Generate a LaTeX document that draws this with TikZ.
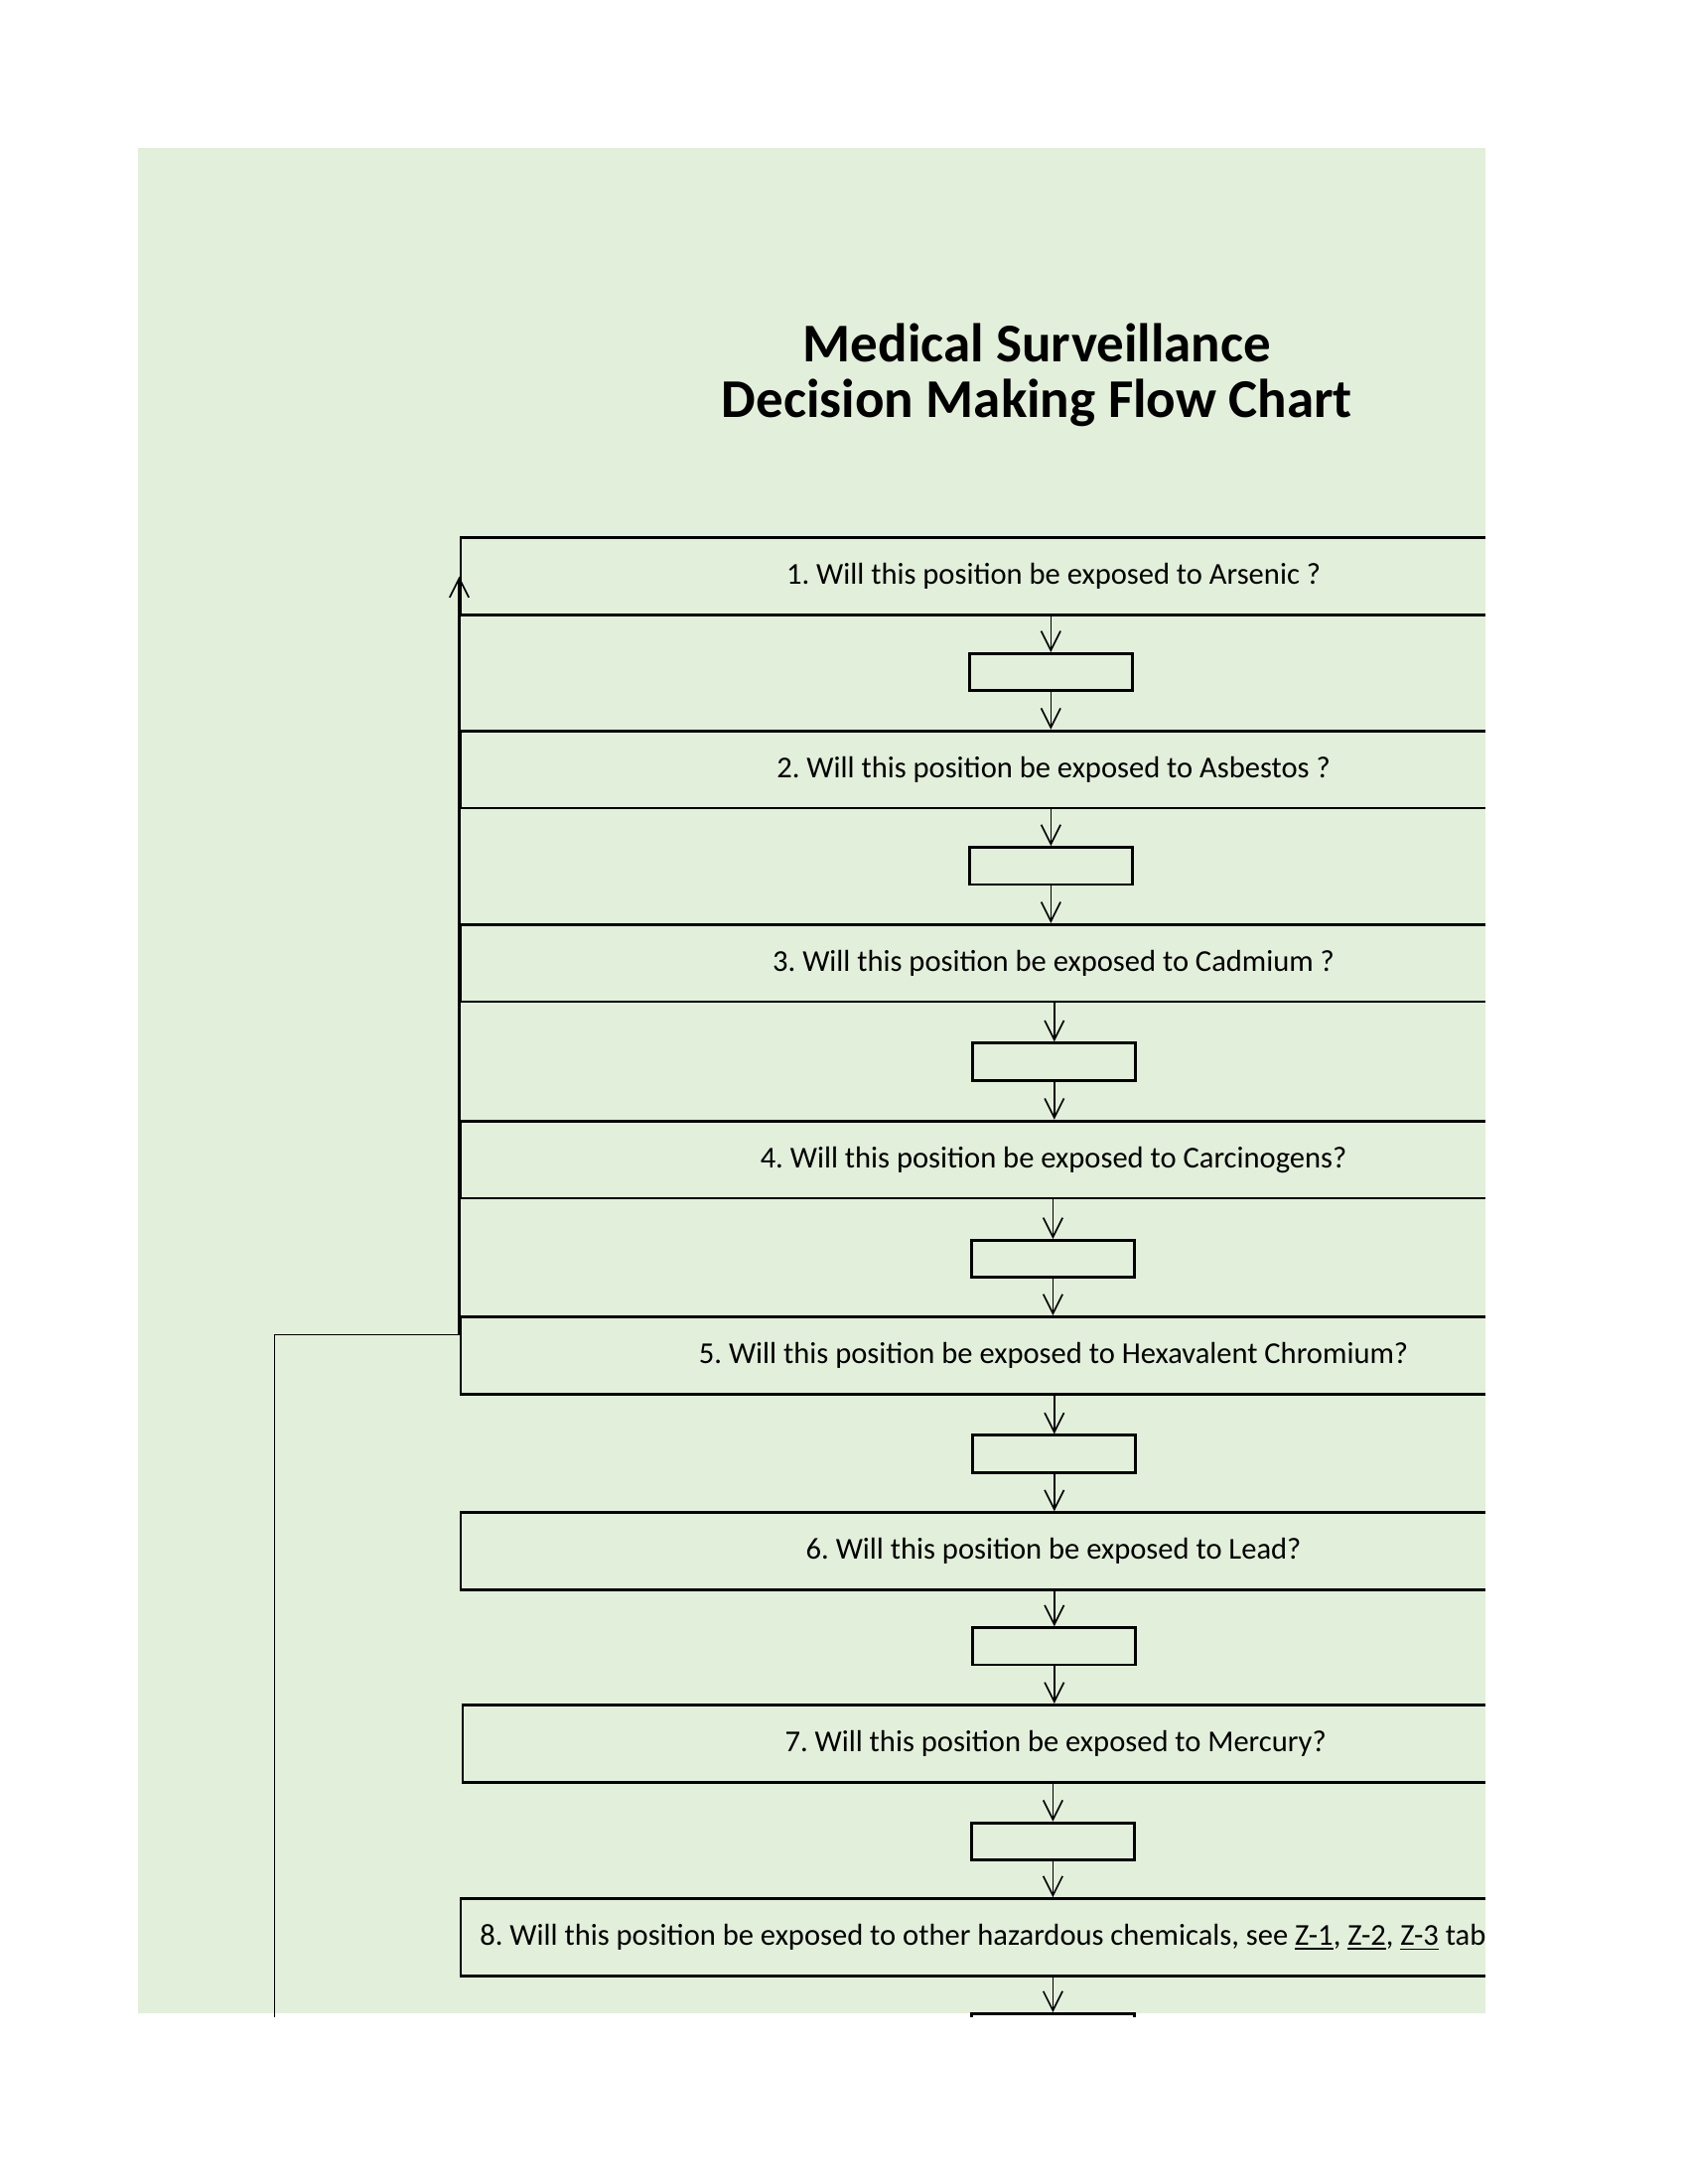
\documentclass[tikz,border=0pt]{standalone}
\usepackage{fontspec}
\setmainfont{Carlito}
\frenchspacing
\usetikzlibrary{arrows.meta}
\tikzset{>={Straight Barb[length=7pt,width=7pt]}}
\definecolor{sheetgreen}{HTML}{E2EFDA}

\begin{document}
\begin{tikzpicture}[x=0.5pt,y=-0.5pt,
  question/.style={draw,line width=1pt,minimum width=430pt,minimum height=28pt,inner sep=0pt,font=\fontsize{11}{13}\selectfont},
  answer/.style={draw,line width=1pt,minimum width=59pt,minimum height=13.5pt,inner sep=0pt},
  flow/.style={->,line width=0.6pt}]
  \useasboundingbox (0,0) rectangle (1224,1584);
  \fill[sheetgreen] (100,107) rectangle (1077,1460);
  \begin{scope}
    \clip (100,107) rectangle (1077,1463);
    \node[font=\fontsize{19.8}{20}\selectfont\bfseries,align=center] (title) at (752,272)
      {Medical Surveillance\\Decision Making Flow Chart};
    % questions
    \node[question] (q1) at (764,418) {1. Will this position be exposed to Arsenic ?};
    \node[question] (q2) at (764,558) {2. Will this position be exposed to Asbestos ?};
    \node[question] (q3) at (764,698.5) {3. Will this position be exposed to Cadmium ?};
    \node[question] (q4) at (764,841) {4. Will this position be exposed to Carcinogens?};
    \node[question] (q5) at (764,983) {5. Will this position be exposed to Hexavalent Chromium?};
    \node[question] (q6) at (764,1125) {6. Will this position be exposed to Lead?};
    \node[question] (q7) at (765.5,1264.5) {7. Will this position be exposed to Mercury?};
    \node[question] (q8) at (764,1405)
      {\makebox[416pt][l]{8. Will this position be exposed to other hazardous chemicals, see \underline{Z-1}, \underline{Z-2}, \underline{Z-3} tables?}};
    % answer boxes
    \node[answer] (s1) at (762,487.5) {};
    \node[answer] (s2) at (762,628) {};
    \node[answer] (s3) at (764.5,770) {};
    \node[answer] (s4) at (763.5,913) {};
    \node[answer] (s5) at (764.5,1054.5) {};
    \node[answer] (s6) at (764.5,1194) {};
    \node[answer] (s7) at (763.5,1335.5) {};
    \node[answer] (s8) at (763.5,1474) {};
    % arrows down
    \draw[flow] (q1.south -| s1.north) -- (s1.north);
    \draw[flow] (s1.south) -- (q2.north -| s1.south);
    \draw[flow] (q2.south -| s2.north) -- (s2.north);
    \draw[flow] (s2.south) -- (q3.north -| s2.south);
    \draw[flow] (q3.south -| s3.north) -- (s3.north);
    \draw[flow] (s3.south) -- (q4.north -| s3.south);
    \draw[flow] (q4.south -| s4.north) -- (s4.north);
    \draw[flow] (s4.south) -- (q5.north -| s4.south);
    \draw[flow] (q5.south -| s5.north) -- (s5.north);
    \draw[flow] (s5.south) -- (q6.north -| s5.south);
    \draw[flow] (q6.south -| s6.north) -- (s6.north);
    \draw[flow] (s6.south) -- (q7.north -| s6.south);
    \draw[flow] (q7.south -| s7.north) -- (s7.north);
    \draw[flow] (s7.south) -- (q8.north -| s7.south);
    \draw[flow] (q8.south -| s8.north) -- (s8.north);
    % loop back
    \coordinate (loopcorner) at (199,968);
    \coordinate (loopend) at (199,1600);
    \draw[line width=0.5pt] (loopend) -- (loopcorner) -- (q5.west |- loopcorner);
    \draw[-{Straight Barb[length=7pt,width=7pt,line width=0.6pt]},line width=1pt] (q5.west |- loopcorner) -- (q1.west);
  \end{scope}
\end{tikzpicture}
\end{document}
